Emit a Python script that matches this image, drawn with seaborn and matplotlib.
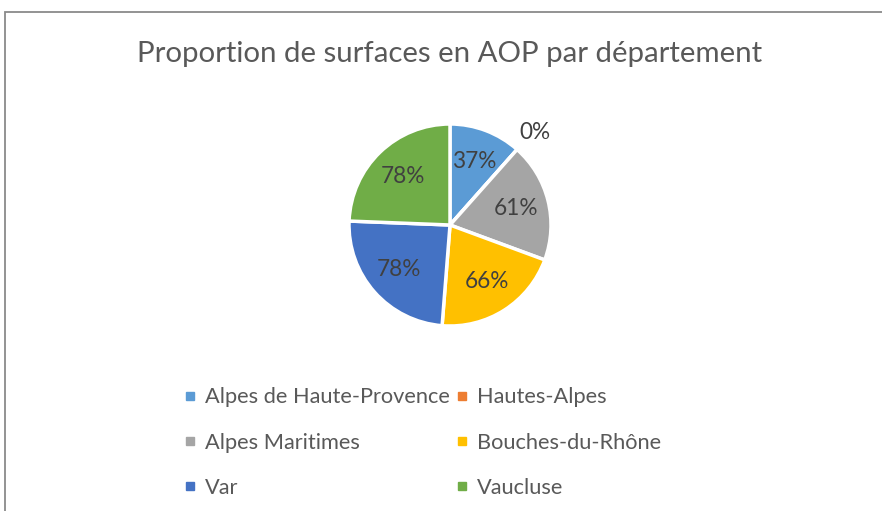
import matplotlib
matplotlib.use("Agg")
import matplotlib.pyplot as plt
import seaborn as sns
import numpy as np
from matplotlib.lines import Line2D
from matplotlib.patches import Rectangle

departements = ["Alpes de Haute-Provence", "Hautes-Alpes", "Alpes Maritimes",
                "Bouches-du-Rhône", "Var", "Vaucluse"]
proportions = [37, 0, 61, 66, 78, 78]
colors = ["#5B9BD5", "#ED7D31", "#A5A5A5", "#FFC000", "#4472C4", "#70AD47"]
title = "Proportion de surfaces en AOP par département"

sns.set_theme(style="white")
plt.rcParams['font.family'] = ['Lato', 'DejaVu Sans']

W, H = 882, 511
fig = plt.figure(figsize=(W / 100, H / 100), dpi=100)
fig.patch.set_facecolor("white")

# border (cropped at right/bottom)
fig.add_artist(Rectangle((4.5 / W, -0.1), 1.2, (H - 12.5) / H + 0.1,
                         transform=fig.transFigure, fill=False,
                         edgecolor="#8a8a8a", linewidth=1.3))

cx, cy, r = 450, 225, 101
ax = fig.add_axes([(cx - r) / W, (H - cy - r) / H, 2 * r / W, 2 * r / H])
vals_iter = iter(proportions)
wedges, texts, autotexts = ax.pie(
    proportions, colors=colors, startangle=90, counterclock=False,
    autopct=lambda p: f"{next(vals_iter)}%", pctdistance=0.67,
    wedgeprops=dict(edgecolor="white", linewidth=2.5),
    textprops=dict(color="#404040", fontsize=16.3))
ax.set_xlim(-1, 1)
ax.set_ylim(-1, 1)
ax.set_aspect("equal")

# label for zero slice placed outside
for w, t, v in zip(wedges, autotexts, proportions):
    if v == 0:
        ang = np.deg2rad((w.theta1 + w.theta2) / 2 - 1)
        t.set_position((1.24 * np.cos(ang), 1.24 * np.sin(ang)))
        t.set_color("#404040")

fig.text(cx / W, 1 - 54 / H, title, ha="center", va="center",
         fontsize=21.2, color="#595959")

handles = [Line2D([0], [0], marker="s", linestyle="", markersize=6,
                  markerfacecolor=c, markeredgecolor=c) for c in colors]
order = [0, 2, 4, 1, 3, 5]
leg = fig.legend([handles[i] for i in order], [departements[i] for i in order],
                 ncol=2, loc="center left", bbox_to_anchor=(183.5 / W, 1 - 442.5 / H),
                 frameon=False, fontsize=15.7, handlelength=0.6,
                 handletextpad=0.39, columnspacing=0.25, labelspacing=1.16,
                 borderpad=0, borderaxespad=0)
for t in leg.get_texts():
    t.set_color("#595959")

fig.savefig("out.png", dpi=100, facecolor="white")
